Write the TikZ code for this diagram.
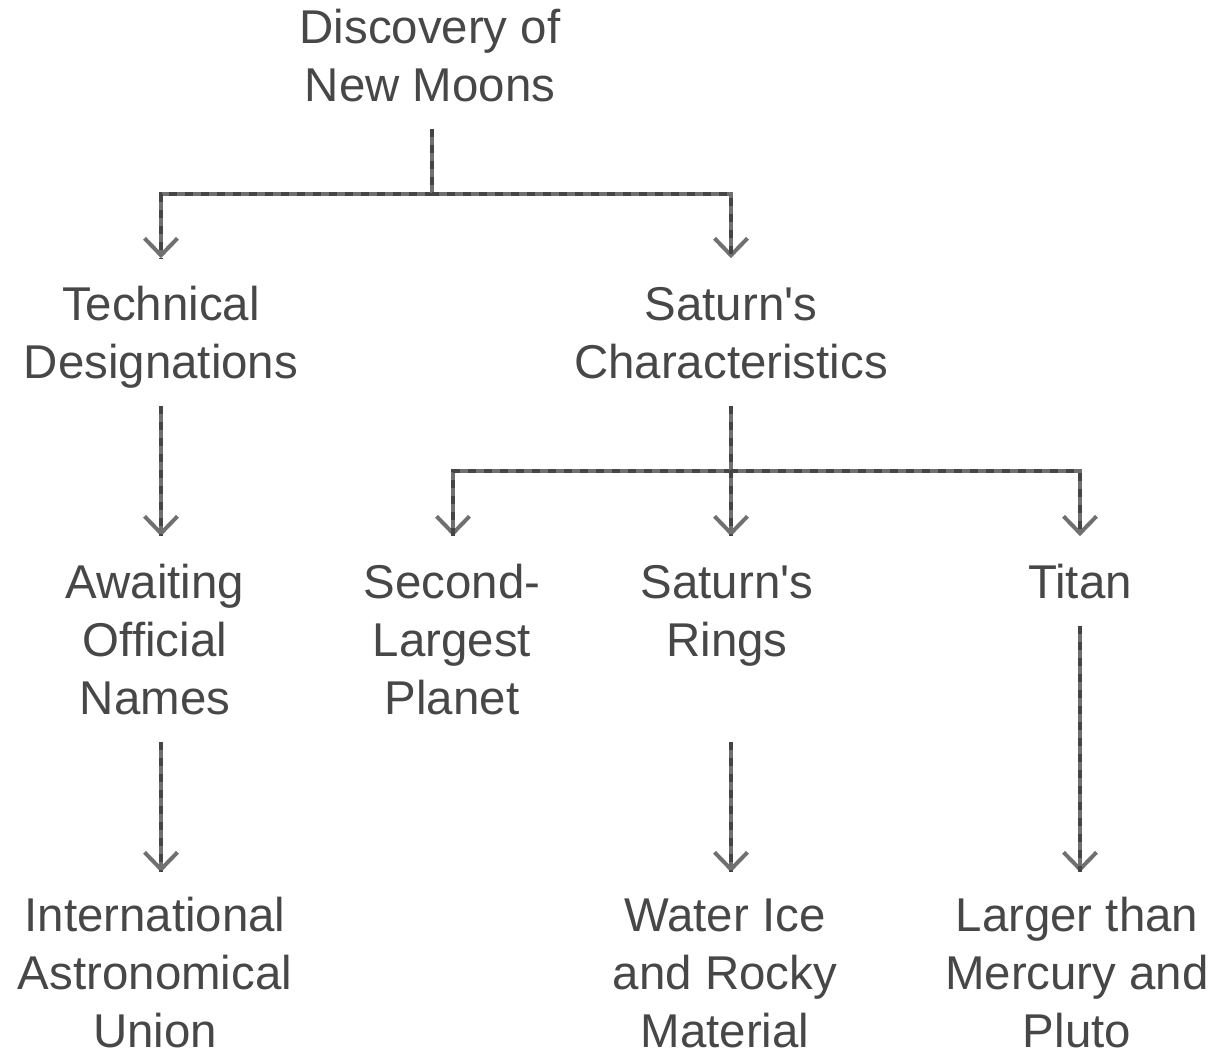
\documentclass[tikz,border=0pt]{standalone}
\usepackage{fontspec}
\setmainfont{Liberation Sans}
\usetikzlibrary{arrows.meta}
\definecolor{txt}{HTML}{474747}
\definecolor{lnA}{HTML}{707070}
\definecolor{lnB}{HTML}{454545}
\newcommand\mystrut{\rule[-6.6pt]{0pt}{32.6pt}}
\newcommand\apo{\textquotesingle}
\tikzset{
  lbl/.style={align=center, text=txt, inner xsep=2pt, inner ysep=0pt,
    font=\fontsize{27pt}{33pt}\selectfont},
  one/.style={lbl, minimum height=89*0.02cm},
  two/.style={lbl, minimum height=147*0.02cm},
  three/.style={lbl, minimum height=205*0.02cm},
  leaf/.style={lbl, minimum height=199*0.02cm},
  conn/.style={draw=lnA, line width=0.08cm, line join=miter,
    -{Straight Barb[length=0.34cm, width=0.66cm, line width=0.08cm]},
    postaction={draw=lnB, dash pattern=on 0.16cm off 0.16cm, line width=0.08cm, -}},
}
\begin{document}
\begin{tikzpicture}[x=0.02cm, y=-0.02cm]
\useasboundingbox (0,0) rectangle (1215,1054);
\node[two] (root) at (430,55) {\mystrut Discovery of\\New Moons\mystrut};
\node[two] (tech) at (161,332) {\mystrut Technical\\Designations\mystrut};
\node[two] (sat) at (731,332) {\mystrut Saturn\apo s\\Characteristics\mystrut};
\node[three] (await) at (155,639) {\mystrut Awaiting\\Official\\Names\mystrut};
\node[three] (second) at (452,639) {\mystrut Second-\\Largest\\Planet\mystrut};
\node[three] (rings) at (727,639) {\mystrut Saturn\apo s\\Rings\\\mystrut};
\node[one] (titan) at (1080,581) {\mystrut Titan\mystrut};
\node[leaf] (iau) at (155,972) {\mystrut International\\Astronomical\\Union\mystrut};
\node[leaf] (water) at (725,972) {\mystrut Water Ice\\and Rocky\\Material\mystrut};
\node[leaf] (larger) at (1077,972) {\mystrut Larger than\\Mercury and\\Pluto\mystrut};

\draw[conn] (root.south -| 432,0) -- ++(0,65) -| (tech.north);
\draw[conn] (root.south -| 432,0) -- ++(0,65) -| (sat.north);
\draw[conn] (tech.south) -- (tech.south |- await.north);
\draw[conn] (sat.south) -- ++(0,65) -| (second.north -| 453,0);
\draw[conn] (sat.south) -- (sat.south |- rings.north);
\draw[conn] (sat.south) -- ++(0,65) -| (titan.north);
\draw[conn] (await.south -| 161,0) -- (iau.north -| 161,0);
\draw[conn] (rings.south -| 731,0) -- (water.north -| 731,0);
\draw[conn] (titan.south) -- (titan.south |- larger.north);
\end{tikzpicture}
\end{document}
